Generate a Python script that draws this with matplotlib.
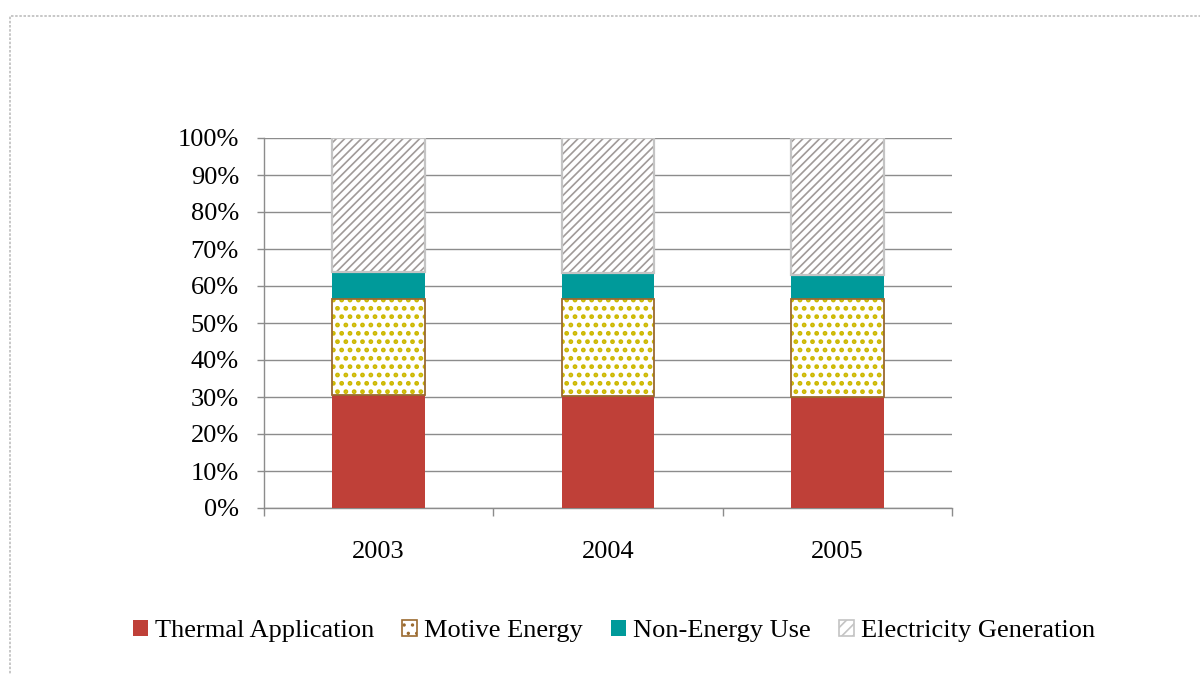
import matplotlib
matplotlib.use("Agg")
import matplotlib.pyplot as plt
from matplotlib.patches import Patch, Rectangle
import numpy as np

# Share of use (%) by year
years = ["2003", "2004", "2005"]
thermal = [30.5, 30.3, 30.1]
motive = [25.9, 26.1, 26.3]
non_energy = [7.4, 7.0, 6.6]
electricity = [36.2, 36.6, 37.0]

series_names = ["Thermal Application", "Motive Energy", "Non-Energy Use", "Electricity Generation"]
yticks = [0, 10, 20, 30, 40, 50, 60, 70, 80, 90, 100]

plt.rcParams["font.family"] = ["Liberation Serif", "DejaVu Serif"]
plt.rcParams["hatch.linewidth"] = 1.2

RED = "#BF4038"
TEAL = "#009A9A"
DOT = "#CDB800"
BROWN = "#9B6A2F"
STRIPE = "#A09A98"
LGRAY = "#C4C4C4"
GRID = "#8C8C8C"
FS = 19


def hatch_lw(container, lw):
    for p in container:
        if hasattr(p, "set_hatch_linewidth"):
            p.set_hatch_linewidth(lw)


fig = plt.figure(figsize=(12, 6.74), dpi=100)
ax = fig.add_axes([264 / 1200, 1 - 508 / 674, 688 / 1200, 370 / 674])

x = np.arange(len(years))
w = 0.405
thermal_f = np.array(thermal) / 100
motive_f = np.array(motive) / 100
non_f = np.array(non_energy) / 100
elec_f = np.array(electricity) / 100

b0 = np.zeros(len(years))
b1 = b0 + thermal_f
b2 = b1 + motive_f
b3 = b2 + non_f

ax.bar(x, thermal_f, w, bottom=b0, color=RED, linewidth=0, zorder=3)
# dotted fill, then its brown outline
dots = ax.bar(x, motive_f, w, bottom=b1, facecolor="white", edgecolor=DOT, hatch="..", linewidth=0, zorder=3)
hatch_lw(dots, 2.2)
ax.bar(x, motive_f, w, bottom=b1, fill=False, edgecolor=BROWN, linewidth=1.3, zorder=4)
ax.bar(x, non_f, w, bottom=b2, color=TEAL, linewidth=0, zorder=3)
stripes = ax.bar(x, elec_f, w, bottom=b3, facecolor="white", edgecolor=STRIPE, hatch="////", linewidth=0, zorder=3)
hatch_lw(stripes, 1.2)
ax.bar(x, elec_f, w, bottom=b3, fill=False, edgecolor=LGRAY, linewidth=1.6, zorder=4)

ax.set_xlim(-0.5, len(years) - 0.5)
ax.set_ylim(0, 1)
ax.set_yticks(np.array(yticks) / 100)
ax.set_yticklabels([f"{v}%" for v in yticks])
ax.yaxis.grid(True, color=GRID, linewidth=1.0, zorder=0)
ax.set_axisbelow(True)

ax.set_xticks(x)
ax.set_xticklabels(years)
ax.set_xticks(np.arange(-0.5, len(years)), minor=True)
ax.tick_params(axis="x", which="major", length=0, pad=23.5, labelsize=FS)
ax.tick_params(axis="x", which="minor", length=5.5, width=1.0, color=GRID, direction="out")
ax.tick_params(axis="y", length=5, width=1.0, color=GRID, pad=13, labelsize=FS)

for s in ["top", "right"]:
    ax.spines[s].set_visible(False)
for s in ["left", "bottom"]:
    ax.spines[s].set_color(GRID)
    ax.spines[s].set_linewidth(1.0)

handles = [
    Patch(facecolor=RED, edgecolor="none"),
    Patch(facecolor="white", edgecolor=BROWN, hatch="..", linewidth=1.2),
    Patch(facecolor=TEAL, edgecolor="none"),
    Patch(facecolor="white", edgecolor=LGRAY, hatch="///", linewidth=1.2),
]
fig.legend(handles, series_names, loc="center", bbox_to_anchor=(614 / 1200, 1 - 631 / 674),
           ncol=4, frameon=False, fontsize=FS, handlelength=0.57, handleheight=0.57,
           handletextpad=0.27, columnspacing=1.05, borderaxespad=0)

# dotted outer frame
fig.patches.append(Rectangle((10 / 1200, -0.1), 1.2, 1 - 16 / 674 + 0.1, transform=fig.transFigure,
                             fill=False, edgecolor="#BDBDBD", linewidth=1.2, linestyle=(0, (1.5, 1.0))))

fig.savefig("out.png", dpi=100, facecolor="white")
